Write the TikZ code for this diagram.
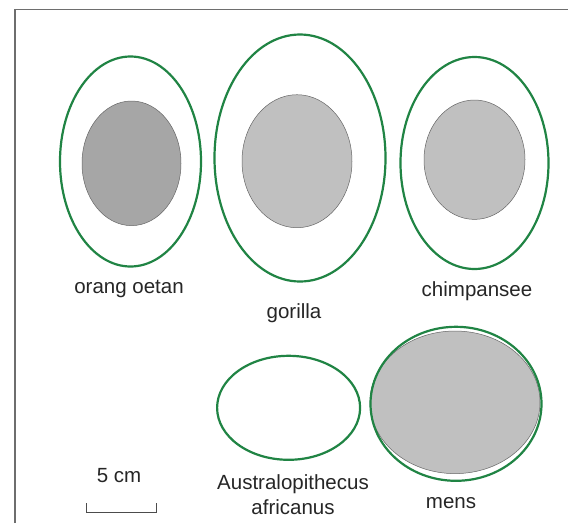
\documentclass[tikz,border=0pt]{standalone}
\usepackage{fontspec}
\setmainfont{Liberation Sans}
\definecolor{skullgreen}{RGB}{32,132,68}
\definecolor{darkfill}{RGB}{166,166,166}
\definecolor{lightfill}{RGB}{192,192,192}
\definecolor{framegrey}{RGB}{110,110,110}
\tikzset{
  outer/.style={draw=skullgreen, line width=2.2pt},
  inner/.style={draw=black!60, line width=0.5pt},
  lbl/.style={font=\fontsize{20.5}{24}\selectfont, text=black!85, inner sep=0pt, align=center},
}
\begin{document}
\begin{tikzpicture}[x=1pt,y=-1pt]
\useasboundingbox (0,0) rectangle (568,523);
\fill[white] (0,0) rectangle (568,523);
\draw[framegrey, line width=1.5pt] (15,523) -- (15,9.5) -- (568,9.5);
% orang oetan
\draw[outer] (130.5,161.5) ellipse [x radius=70.5, y radius=105];
\draw[inner, fill=darkfill] (131.5,163.3) ellipse [x radius=49.5, y radius=62.3];
% gorilla
\draw[outer] (300,158) ellipse [x radius=85.5, y radius=123.5];
\draw[inner, fill=lightfill] (297,161.2) ellipse [x radius=55, y radius=66.5];
% chimpansee
\draw[outer] (474.5,163) ellipse [x radius=74, y radius=106];
\draw[inner, fill=lightfill] (474.5,159.7) ellipse [x radius=50.5, y radius=59.7];
% australopithecus
\draw[outer] (288.6,407.8) ellipse [x radius=71.5, y radius=52];
% mens
\draw[inner, fill=lightfill] (455,402.3) ellipse [x radius=85, y radius=71.3];
\draw[outer] (456,403.8) ellipse [x radius=85.5, y radius=77];
% labels
\node[lbl] (orang) at (129,289.3) {orang oetan};
\node[lbl] (gorilla) at (294,313.3) {gorilla};
\node[lbl] (chimp) at (477,290.7) {chimpansee};
\node[lbl] (austr) at (293,494.5) {Australopithecus\\[1.5pt]africanus};
\node[lbl] (mens) at (451,503) {mens};
\node[lbl] (scale) at (119,476) {5 cm};
% scale bar
\coordinate (sbl) at (86,503);
\coordinate (sbr) at (156.5,503);
\draw[black!70, line width=0.9pt] (sbl) -- ++(0,9) -| (sbr);
\end{tikzpicture}
\end{document}
